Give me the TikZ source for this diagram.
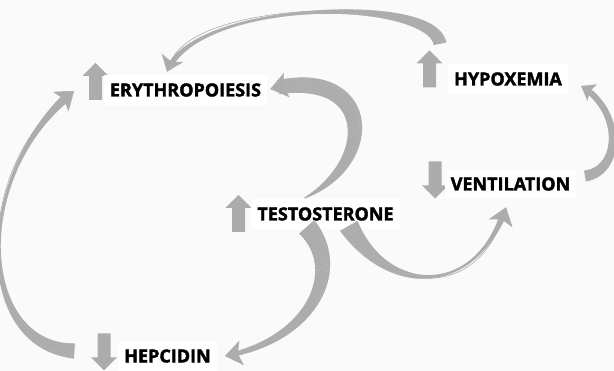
\documentclass[tikz,border=0pt]{standalone}
\usepackage{fontspec}
\setmainfont{Open Sans}[BoldFeatures={FakeBold=2}]
\usetikzlibrary{arrows.meta, decorations.markings}
\definecolor{ArrowGray}{RGB}{172,172,172}
\definecolor{PaperGray}{RGB}{250,250,250}

\tikzset{
  factor/.style={fill=white, inner xsep=6pt, minimum height=30pt, font=\fontsize{18}{20}\selectfont\bfseries},
  % block arrow markers
  blockmark/.style={fill=PaperGray, inner sep=0pt, minimum width=26pt, minimum height=37pt},
  upmark/.style={blockmark,
    path picture={\fill[ArrowGray, shift={(path picture bounding box.center)}]
      (0pt,18.5pt) -- (13pt,5.5pt) -- (6.5pt,5.5pt) -- (6.5pt,-18.5pt) -- (-6.5pt,-18.5pt)
      -- (-6.5pt,5.5pt) -- (-13pt,5.5pt) -- cycle;}},
  downmark/.style={blockmark,
    path picture={\fill[ArrowGray, shift={(path picture bounding box.center)}]
      (0pt,-18.5pt) -- (13pt,-5.5pt) -- (6.5pt,-5.5pt) -- (6.5pt,18.5pt) -- (-6.5pt,18.5pt)
      -- (-6.5pt,-5.5pt) -- (-13pt,-5.5pt) -- cycle;}},
  bighead/.tip={Stealth[length=17pt, width=25pt, inset=4pt]},
  midhead/.tip={Stealth[length=15pt, width=23pt, inset=4pt]},
  smallhead/.tip={Stealth[length=13pt, width=19pt, inset=3pt]},
  % tapered connector: tail width, middle width, end width, head
  swoosh/.style n args={4}{
    draw=ArrowGray, line width=0.6pt, -{#4},
    postaction={decorate},
    decoration={markings,
      mark=between positions 0 and -10pt step 0.6pt with {
        \pgfmathsetmacro\swT{\pgfkeysvalueof{/pgf/decoration/mark info/distance from start}/\pgfdecoratedpathlength}
        \pgfmathsetmacro\swW{max(1,#1*(2*\swT-1)*(\swT-1)+#2*4*\swT*(1-\swT)+#3*\swT*(2*\swT-1))/2}
        \fill[ArrowGray] (-0.45pt,-\swW pt) rectangle (0.45pt,\swW pt);
      }
    }
  }
}

\begin{document}
\begin{tikzpicture}[x=1pt, y=-1pt]
    \fill[PaperGray] (0,0) rectangle (614,371);
    \useasboundingbox (0,0) rectangle (614,371);

    \node[upmark] (eryUp) at (95.5,81.5) {};
    \node[factor] (ery) at (185.5,90) {ERYTHROPOIESIS};
    \node[upmark] (hypUp) at (429.5,69) {};
    \node[factor] (hyp) at (508,79) {HYPOXEMIA};
    \node[downmark] (venDown) at (435,180) {};
    \node[factor] (ven) at (510.5,184) {VENTILATION};
    \node[upmark] (tesUp) at (238.5,213.5) {};
    \node[factor] (tes) at (325.5,214) {TESTOSTERONE};
    \node[downmark] (hepDown) at (104,352) {};
    \node[factor] (hep) at (167.5,356) {HEPCIDIN};

    \path[swoosh={13}{3}{6}{midhead}] ([shift={(10.5pt,7pt)}]hypUp.north) .. controls +(-10,-48) and +(28,-72) .. ([shift={(-18.5pt,3pt)}]ery.north);
    \path[swoosh={1}{15}{13}{bighead}] ([shift={(-20.5pt,1pt)}]tes.north) .. controls +(75,-38) and +(102,-24) .. ([shift={(3pt,1pt)}]ery.east);
    \path[swoosh={20}{10}{4}{bighead}] ([shift={(-18.5pt,2pt)}]tes.south) .. controls +(38,43) and +(87,-16) .. ([xshift=8pt]hep.east);
    \path[swoosh={20}{3}{8}{bighead}] ([shift={(23.5pt,3pt)}]tes.south) .. controls +(40,70) and +(-30,90) .. ([shift={(-4.5pt,-8pt)}]ven.south);
    \path[swoosh={11}{7}{6}{smallhead}] ([shift={(9pt,8pt)}]ven.east) .. controls +(37,-6) and +(41,24) .. ([shift={(13pt,-7pt)}]hyp.east);
    \path[swoosh={15}{3}{10}{bighead}] ([shift={(-30pt,1pt)}]hepDown.center) .. controls +(-100,-6) and +(-100,80) .. ([shift={(-21.5pt,-9.5pt)}]eryUp.center);
\end{tikzpicture}
\end{document}
